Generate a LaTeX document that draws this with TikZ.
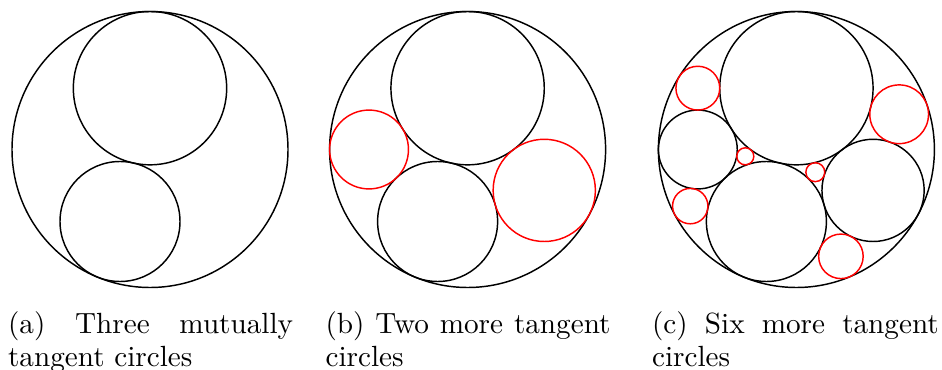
\documentclass[tikz,border=0pt]{standalone}
\tolerance=9999
\hyphenpenalty=10000
\begin{document}
\begin{tikzpicture}[x=0.3425pt,y=0.3425pt,
  blk/.style={line width=0.5pt, draw=black},
  redc/.style={line width=0.5pt, draw=red},
  captext/.style={inner sep=0pt, anchor=north west, text width=97.6pt, align=justify,
    font=\fontsize{10}{11}\selectfont}]
\useasboundingbox (0,0) rectangle (942,-370);
% unit: outer radius = 138 px
\newcommand\basethree{%
  \draw[blk] (0,0) circle[radius=1];
  \draw[blk] (0,0.44444) circle[radius=0.55556];
  \draw[blk] (-0.21739,-0.52174) circle[radius=0.43478];
}
% (a)
\begin{scope}[shift={(150,-149.5)}, x=47.265pt, y=47.265pt]
  \basethree
\end{scope}
% (b)
\begin{scope}[shift={(467.6,-149.5)}, x=47.265pt, y=47.265pt]
  \basethree
  \draw[redc] (-0.71429,0) circle[radius=0.28571];
  \draw[redc] (0.55556,-0.29630) circle[radius=0.37037];
\end{scope}
% (c)
\begin{scope}[shift={(796.4,-149.5)}, x=47.265pt, y=47.265pt]
  \basethree
  \draw[blk] (-0.71429,0) circle[radius=0.28571];
  \draw[blk] (0.55556,-0.29630) circle[radius=0.37037];
  \draw[redc] (-0.71429,0.44444) circle[radius=0.15873];
  \draw[redc] (-0.76923,-0.41026) circle[radius=0.12821];
  \draw[redc] (-0.37037,-0.04938) circle[radius=0.061728];
  \draw[redc] (0.74468,0.25532) circle[radius=0.21277];
  \draw[redc] (0.32258,-0.77419) circle[radius=0.16129];
  \draw[redc] (0.13699,-0.16438) circle[radius=0.068493];
\end{scope}
% captions
\node[captext] (capa) at (7.5,-311.5) {(a) Three mutually tangent circles};
\node[captext] (capb) at (325,-311.5) {(b) Two more tangent circles};
\node[captext, text width=98.2pt] (capc) at (651.5,-311.5) {(c) Six more tangent circles};
\end{tikzpicture}
\end{document}
